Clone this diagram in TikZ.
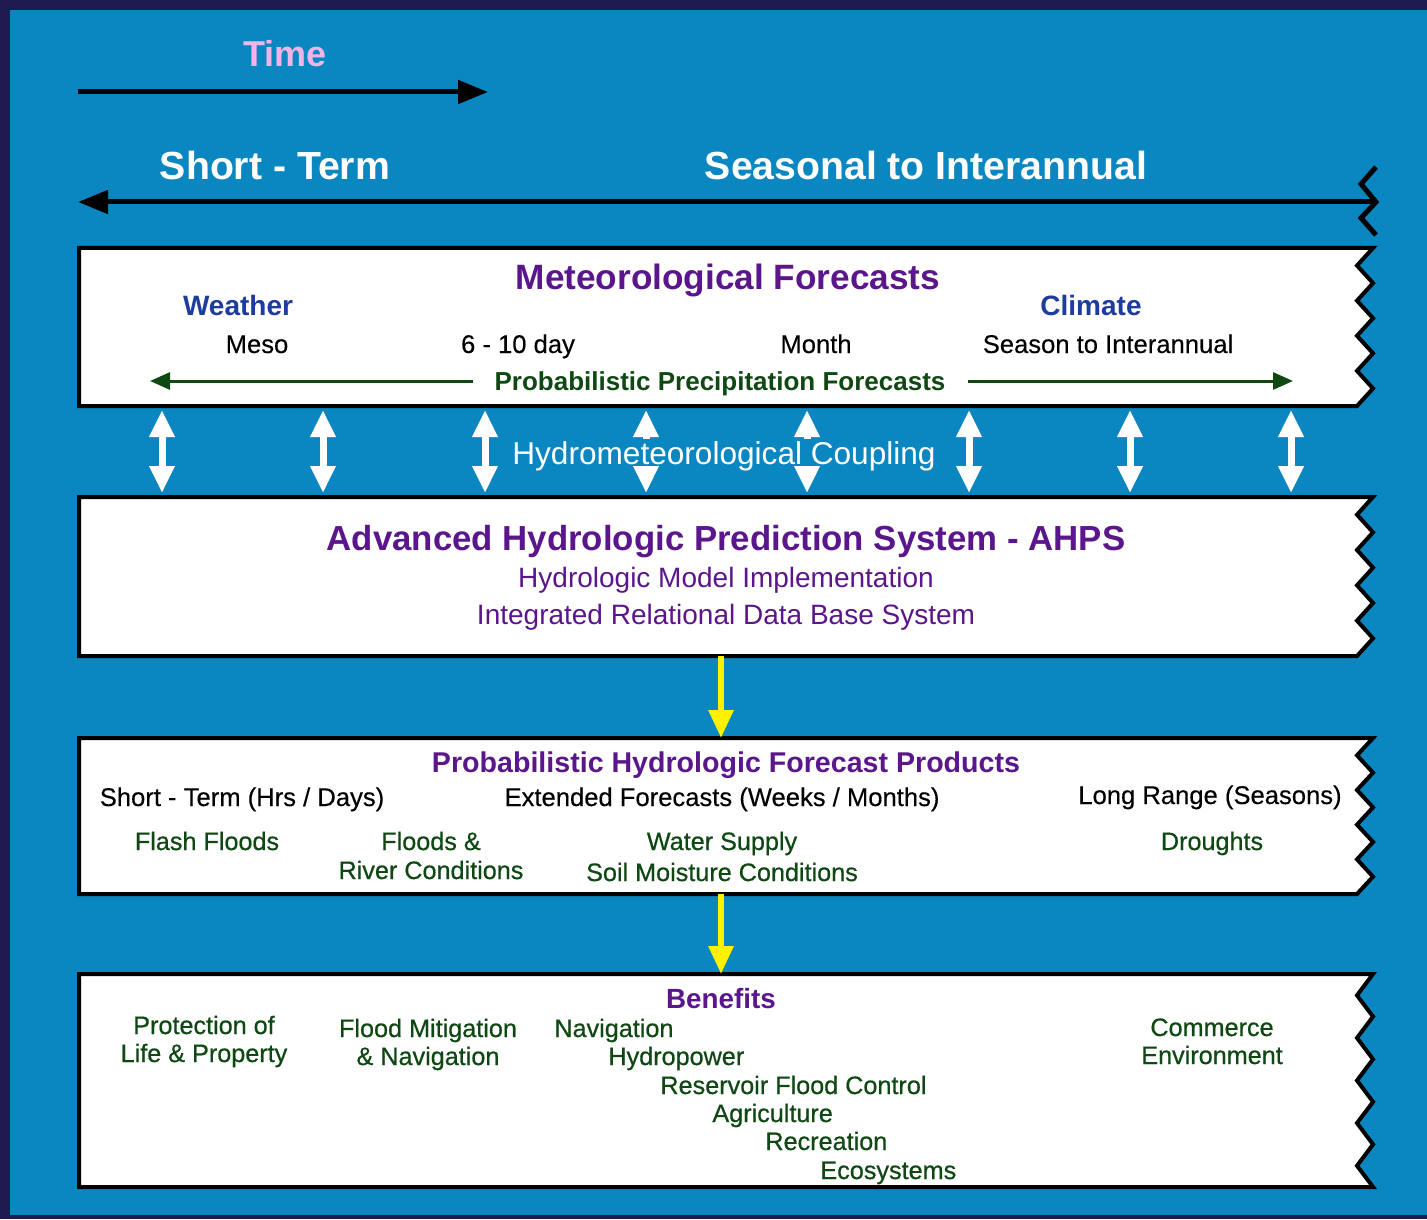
\documentclass[tikz,border=0pt]{standalone}
\usepackage{fontspec}
\setmainfont{Liberation Sans}
\newfontfamily\medfont[FakeBold=0.3]{Liberation Sans}
\newfontfamily\itemfont[FakeBold=0.6]{Liberation Sans}
\usetikzlibrary{arrows.meta}

\definecolor{navy}{RGB}{28,26,78}
\definecolor{bgblue}{RGB}{10,135,193}
\definecolor{hpurple}{RGB}{92,22,140}
\definecolor{wblue}{RGB}{30,60,156}
\definecolor{dgreen}{RGB}{16,72,20}
\definecolor{tpink}{RGB}{242,180,230}

\tikzset{
  boxline/.style={draw=black,fill=white,line width=2pt},
  title/.style={anchor=base,text=hpurple,font=\fontsize{17.6}{20}\selectfont\bfseries},
  subtitle/.style={anchor=base,text=hpurple,font=\fontsize{14.3}{16}\selectfont\bfseries},
  plain/.style={anchor=base,text=black,font=\fontsize{12.8}{14}\medfont},
  item/.style={anchor=base,text=dgreen,font=\fontsize{12.6}{14}\itemfont},
  coupling/.style={white,line width=3.5pt,{Triangle[length=13.5pt,width=12pt]}-{Triangle[length=13.5pt,width=12pt]}},
  yarrow/.style={yellow,line width=3pt,-{Triangle[length=14pt,width=12pt]}},
  garrow/.style={dgreen,line width=1.5pt,-{Triangle[length=10pt,width=8.5pt]}}
}

% torn box: name, top, bottom, number of zigzag steps
\newcommand{\tornbox}[4]{%
  \draw[boxline] (79,#2) -- (1373,#2)
    \foreach \k in {1,...,#4} {-- ({1373-16*mod(\k,2)},{#2+(#3-#2)*\k/#4})}
    -- (79,#3) -- cycle;
  \coordinate (#1-n) at (721,#2);
  \coordinate (#1-s) at (721,#3);
}

\begin{document}
\begin{tikzpicture}[x=0.5pt,y=-0.5pt]
\useasboundingbox (0,0) rectangle (1427,1219);
% frame and background
\fill[navy] (0,0) rectangle (1427,1219);
\fill[bgblue] (10,10) rectangle (1427,1215);

% time arrow
\node[anchor=base,text=tpink,font=\fontsize{18}{20}\selectfont\bfseries] (time) at (285,67) {Time};
\coordinate (t0) at (78,92);
\coordinate (t1) at (488,92);
\draw[line width=2.5pt,-{Triangle[length=15pt,width=11.5pt]}] (t0) -- (t1);

% range line with torn end
\node[anchor=base,text=white,font=\fontsize{19.6}{22}\selectfont\bfseries] (short) at (275,180) {Short - Term};
\node[anchor=base,text=white,font=\fontsize{19.6}{22}\selectfont\bfseries] (seasonal) at (926,180) {Seasonal to Interannual};
\coordinate (r0) at (78,202);
\coordinate (r1) at (1376,202);
\draw[line width=2.5pt,{Triangle[length=15pt,width=11.5pt]}-] (r0) -- (r1);
\draw[line width=2.5pt] (1376,167) -- (1361,184) -- (r1) -- (1361,218) -- (1376,235);

% meteorological forecasts
\tornbox{met}{248}{406}{9}
\node[title] (metT) at (728,290) {Meteorological Forecasts};
\node[anchor=base,text=wblue,font=\fontsize{14}{16}\selectfont\bfseries] (weather) at (238,315) {Weather};
\node[anchor=base,text=wblue,font=\fontsize{14}{16}\selectfont\bfseries] (climate) at (1091,315) {Climate};
\node[plain] (meso) at (257,353) {Meso};
\node[plain] (day) at (518,353) {6 - 10 day};
\node[plain] (month) at (816,353) {Month};
\node[plain] (season) at (1108,353) {Season to Interannual};
\node[anchor=base,text=dgreen,font=\fontsize{13}{15}\selectfont\bfseries] (ppf) at (720,390) {Probabilistic Precipitation Forecasts};
\coordinate (pl0) at (473,381);
\coordinate (pl1) at (150,381);
\coordinate (pr0) at (968,381);
\coordinate (pr1) at (1293,381);
\draw[garrow] (pl0) -- (pl1);
\draw[garrow] (pr0) -- (pr1);

% coupling arrows
\foreach \x [count=\i] in {162,323,485,646,807,969,1130,1291} {
  \coordinate (up\i) at (\x,410);
  \coordinate (dn\i) at (\x,493);
  \draw[coupling] (up\i) -- (dn\i);
}
\node[anchor=base,fill=bgblue,inner sep=1pt,text depth=0pt,text=white,font=\fontsize{15.8}{18}\selectfont] (coupl) at (724,464) {Hydrometeorological Coupling};

% AHPS
\tornbox{ahps}{497}{656}{9}
\node[title,font=\fontsize{17.4}{20}\selectfont\bfseries] (ahpsT) at (726,550) {Advanced Hydrologic Prediction System - AHPS};
\node[anchor=base,text=hpurple,font=\fontsize{14}{16}\selectfont] (model) at (726,587) {Hydrologic Model Implementation};
\node[anchor=base,text=hpurple,font=\fontsize{14}{16}\selectfont] (irdb) at (726,624) {Integrated Relational Data Base System};

% forecast products
\tornbox{prod}{738}{894}{9}
\draw[yarrow] (ahps-s) -- (prod-n);
\node[subtitle] (prodT) at (726,772) {Probabilistic Hydrologic Forecast Products};
\node[plain] (st) at (242,806) {Short - Term (Hrs / Days)};
\node[plain] (ext) at (722,806) {Extended Forecasts (Weeks / Months)};
\node[plain] (lr) at (1210,804) {Long Range (Seasons)};
\node[item] (flash) at (207,850) {Flash Floods};
\node[item] (floods) at (431,850) {Floods \&};
\node[item] (river) at (431,879) {River Conditions};
\node[item] (water) at (722,850) {Water Supply};
\node[item] (soil) at (722,881) {Soil Moisture Conditions};
\node[item] (drought) at (1212,850) {Droughts};

% benefits
\tornbox{ben}{974}{1187}{10}
\draw[yarrow] (prod-s) -- (ben-n);
\node[anchor=base,text=hpurple,font=\fontsize{13.9}{16}\selectfont\bfseries] (benT) at (721,1008) {Benefits};
\node[item] (prot) at (204,1034) {Protection of};
\node[item] (life) at (204,1062) {Life \& Property};
\node[item] (mitig) at (428,1037) {Flood Mitigation};
\node[item] (nav) at (428,1065) {\& Navigation};
\node[item,anchor=base west,inner xsep=0pt] (nav2) at (554,1037) {Navigation};
\node[item,anchor=base west,inner xsep=0pt] (hydro) at (608,1065) {Hydropower};
\node[item,anchor=base west,inner xsep=0pt] (res) at (660,1094) {Reservoir Flood Control};
\node[item,anchor=base west,inner xsep=0pt] (agri) at (712,1122) {Agriculture};
\node[item,anchor=base west,inner xsep=0pt] (recr) at (765,1150) {Recreation};
\node[item,anchor=base west,inner xsep=0pt] (eco) at (820,1179) {Ecosystems};
\node[item] (comm) at (1212,1036) {Commerce};
\node[item] (env) at (1212,1064) {Environment};
\end{tikzpicture}
\end{document}
